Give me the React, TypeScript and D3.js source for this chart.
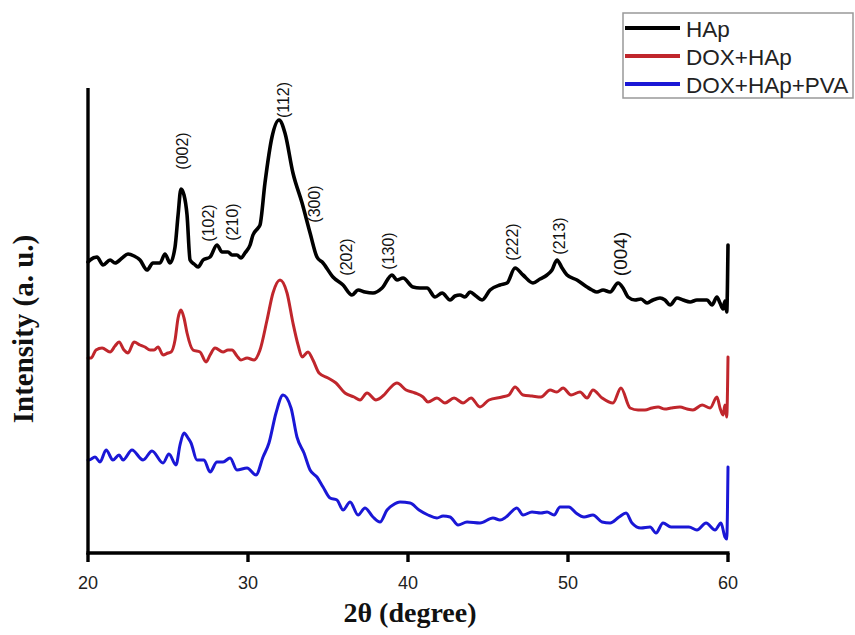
import React from "react";
import * as d3 from "d3";

// 2θ (degree), intensity (a. u.) pairs for each sample
const hapData: [number, number][] = [
  [20.0, 291], [20.13, 293], [20.56, 296], [20.94, 288], [21.38, 293], [21.69, 290], [22.13, 295], [22.5, 299],
  [22.88, 297], [23.25, 293], [23.69, 283], [24.06, 290], [24.5, 290], [24.81, 299], [25.13, 290], [25.44, 306],
  [25.63, 338], [25.81, 364], [26.0, 358], [26.19, 338], [26.38, 293], [26.63, 289], [26.88, 286], [27.19, 293],
  [27.63, 296], [28.06, 308], [28.38, 301], [28.75, 301], [29.0, 298], [29.31, 298], [29.56, 295], [29.81, 300],
  [30.13, 308], [30.31, 318], [30.63, 325], [30.75, 328], [31.06, 370], [31.5, 416], [31.94, 433], [32.31, 420],
  [32.81, 380], [33.38, 350], [33.88, 320], [34.31, 296], [34.69, 290], [35.31, 276], [35.94, 268], [36.5, 258],
  [36.88, 263], [37.31, 261], [37.81, 260], [38.38, 265], [39.0, 278], [39.31, 273], [39.69, 275], [40.31, 266],
  [40.75, 265], [41.19, 265], [41.69, 256], [42.13, 260], [42.63, 253], [42.94, 257], [43.25, 258], [43.56, 256],
  [43.88, 261], [44.25, 257], [44.63, 253], [45.13, 263], [45.75, 268], [46.19, 270], [46.69, 285], [47.19, 278],
  [47.81, 270], [48.25, 274], [48.69, 278], [49.0, 283], [49.31, 293], [49.63, 285], [49.94, 278], [50.56, 273],
  [51.19, 266], [51.5, 263], [51.81, 261], [52.19, 263], [52.63, 261], [53.13, 270], [53.44, 265], [53.75, 256],
  [54.19, 253], [54.56, 254], [54.94, 250], [55.31, 253], [55.75, 255], [56.06, 253], [56.38, 248], [56.81, 255],
  [57.19, 253], [57.63, 251], [58.06, 253], [58.69, 253], [59.0, 248], [59.31, 256], [59.5, 250], [59.69, 244],
  [59.81, 252], [59.92, 241], [60.0, 308],
];

const doxHapData: [number, number][] = [
  [20.0, 195], [20.19, 195], [20.5, 203], [20.88, 205], [21.38, 201], [21.69, 207], [21.94, 211], [22.25, 203],
  [22.5, 200], [22.88, 211], [23.25, 208], [23.56, 206], [23.88, 203], [24.13, 203], [24.38, 206], [24.69, 198],
  [25.0, 200], [25.19, 201], [25.44, 213], [25.63, 235], [25.81, 243], [26.0, 235], [26.19, 220], [26.56, 203],
  [27.0, 201], [27.38, 191], [27.63, 198], [27.94, 205], [28.44, 201], [28.75, 203], [29.0, 203], [29.31, 197],
  [29.56, 193], [29.94, 195], [30.38, 193], [30.75, 203], [31.19, 233], [31.56, 260], [32.0, 273], [32.44, 260],
  [32.81, 230], [33.13, 208], [33.38, 196], [33.75, 201], [34.06, 193], [34.44, 180], [35.0, 175], [35.5, 170],
  [36.06, 160], [36.63, 156], [37.0, 153], [37.44, 160], [38.0, 153], [38.5, 158], [38.88, 165], [39.31, 170],
  [39.88, 163], [40.44, 160], [40.94, 156], [41.25, 151], [41.81, 155], [42.31, 150], [42.88, 155], [43.44, 150],
  [43.94, 155], [44.5, 146], [45.06, 153], [45.88, 156], [46.31, 158], [46.69, 166], [47.19, 158], [47.75, 157],
  [48.31, 156], [48.88, 163], [49.31, 161], [49.69, 165], [50.19, 158], [50.75, 161], [51.19, 155], [51.56, 163],
  [52.13, 155], [52.81, 150], [53.31, 165], [53.88, 145], [54.38, 143], [54.81, 143], [55.25, 145], [55.63, 146],
  [56.06, 144], [56.44, 145], [57.0, 146], [57.44, 144], [57.81, 143], [58.38, 148], [58.88, 145], [59.31, 156],
  [59.5, 145], [59.69, 138], [59.81, 148], [59.92, 136], [60.0, 196],
];

const doxHapPvaData: [number, number][] = [
  [20.0, 93], [20.06, 93], [20.44, 96], [20.75, 91], [21.13, 103], [21.56, 93], [21.94, 98], [22.19, 93],
  [22.75, 103], [23.44, 93], [24.0, 102], [24.69, 90], [25.06, 99], [25.5, 88], [25.75, 108], [26.0, 120],
  [26.25, 115], [26.44, 110], [26.81, 93], [27.25, 93], [27.63, 81], [28.06, 91], [28.44, 91], [28.88, 95],
  [29.31, 83], [29.94, 85], [30.5, 78], [30.94, 96], [31.31, 110], [31.75, 140], [32.19, 158], [32.69, 145],
  [33.06, 116], [33.5, 100], [33.88, 83], [34.31, 76], [34.69, 66], [35.13, 55], [35.56, 53], [35.94, 43],
  [36.38, 51], [36.88, 38], [37.31, 45], [37.81, 36], [38.25, 31], [38.69, 43], [39.06, 48], [39.5, 51],
  [40.13, 50], [40.69, 43], [41.25, 38], [41.81, 35], [42.19, 37], [42.63, 36], [43.13, 28], [43.69, 31],
  [44.5, 30], [45.31, 35], [45.75, 33], [46.13, 36], [46.81, 45], [47.19, 38], [47.75, 41], [48.31, 40],
  [48.69, 41], [49.13, 38], [49.5, 46], [50.06, 46], [50.5, 40], [51.0, 36], [51.56, 38], [52.13, 31],
  [52.63, 30], [53.19, 36], [53.63, 40], [54.0, 30], [54.56, 25], [55.13, 26], [55.5, 20], [55.94, 30],
  [56.44, 26], [57.0, 26], [57.56, 26], [58.06, 23], [58.63, 30], [59.19, 23], [59.56, 30], [59.81, 16],
  [59.92, 14], [60.0, 86],
];

const seriesNames = ["HAp", "DOX+HAp", "DOX+HAp+PVA"];
const xTicks = [20, 30, 40, 50, 60];

// Miller-index annotations: label, 2θ, intensity at label centre
const peakLabels = ["(002)", "(102)", "(210)", "(112)", "(300)", "(202)", "(130)", "(222)", "(213)", "(004)"];
const peakTheta = [25.91, 27.56, 29.03, 32.19, 34.13, 36.13, 38.81, 46.5, 49.44, 53.25];
const peakLabelY = [402, 330, 331, 453, 349, 296, 302, 311, 317, 299];

const colors = ["#000000", "#c0262c", "#1a17d6"];
const widths = [3.6, 3.0, 3.0];

export default function App() {
  const W = 855;
  const H = 635;
  const x = d3.scaleLinear().domain([20, 60]).range([88, 728]);
  const y = d3.scaleLinear().domain([0, 465]).range([553, 88]);
  const line = d3
    .line<[number, number]>()
    .x((d) => x(d[0]))
    .y((d) => y(d[1]))
    .curve(d3.curveMonotoneX);
  const allSeries = [hapData, doxHapData, doxHapPvaData];
  const sans = "'Liberation Sans', Arial, sans-serif";
  const serif = "'Liberation Serif', 'Times New Roman', serif";

  return (
    <div style={{ position: "fixed", left: 0, top: 0 }}>
      <svg width={W} height={H} style={{ display: "block", background: "#fff" }}>
        <rect x={0} y={0} width={W} height={H} fill="#fff" />
        {allSeries.map((s, i) => (
          <path
            key={i}
            d={line(s) || ""}
            fill="none"
            stroke={colors[i]}
            strokeWidth={widths[i]}
            strokeLinejoin="round"
            strokeLinecap="round"
          />
        ))}
        {/* axes */}
        <line x1={x(20)} x2={x(20)} y1={y(465)} y2={y(0) + 1.5} stroke="#000" strokeWidth={3.4} />
        <line x1={x(20) - 1.5} x2={x(60) + 1.5} y1={y(0)} y2={y(0)} stroke="#000" strokeWidth={3.4} />
        {xTicks.map((t) => (
          <g key={t}>
            <line x1={x(t)} x2={x(t)} y1={y(0)} y2={y(0) + 9} stroke="#000" strokeWidth={3.4} />
            <text x={x(t)} y={589} textAnchor="middle" fontFamily={sans} fontSize={18} fill="#222">
              {t}
            </text>
          </g>
        ))}
        <text x={410} y={622} textAnchor="middle" fontFamily={serif} fontWeight="bold" fontSize={28} fill="#111">
          2θ (degree)
        </text>
        <text
          transform={`translate(33,329) rotate(-90)`}
          textAnchor="middle"
          fontFamily={serif}
          fontWeight="bold"
          fontSize={29}
          fill="#111"
        >
          Intensity (a. u.)
        </text>
        {/* peak labels */}
        {peakLabels.map((lab, i) => {
          const cx = x(peakTheta[i]);
          const cy = y(peakLabelY[i]);
          return (
            <text
              key={lab}
              transform={`translate(${cx},${cy}) rotate(-90)`}
              textAnchor="middle"
              dominantBaseline="central"
              fontFamily={sans}
              fontSize={lab === "(004)" ? 19 : 16}
              fill="#111"
            >
              {lab}
            </text>
          );
        })}
        {/* legend */}
        <rect x={623} y={13} width={230} height={85} fill="#fff" stroke="#999" strokeWidth={1.5} />
        {seriesNames.map((n, i) => {
          const ly = 28 + i * 28;
          return (
            <g key={n}>
              <line x1={625} x2={680} y1={ly} y2={ly} stroke={colors[i]} strokeWidth={4} />
              <text x={686} y={ly + 9} fontFamily={sans} fontSize={22.5} fill="#222">
                {n}
              </text>
            </g>
          );
        })}
      </svg>
    </div>
  );
}
